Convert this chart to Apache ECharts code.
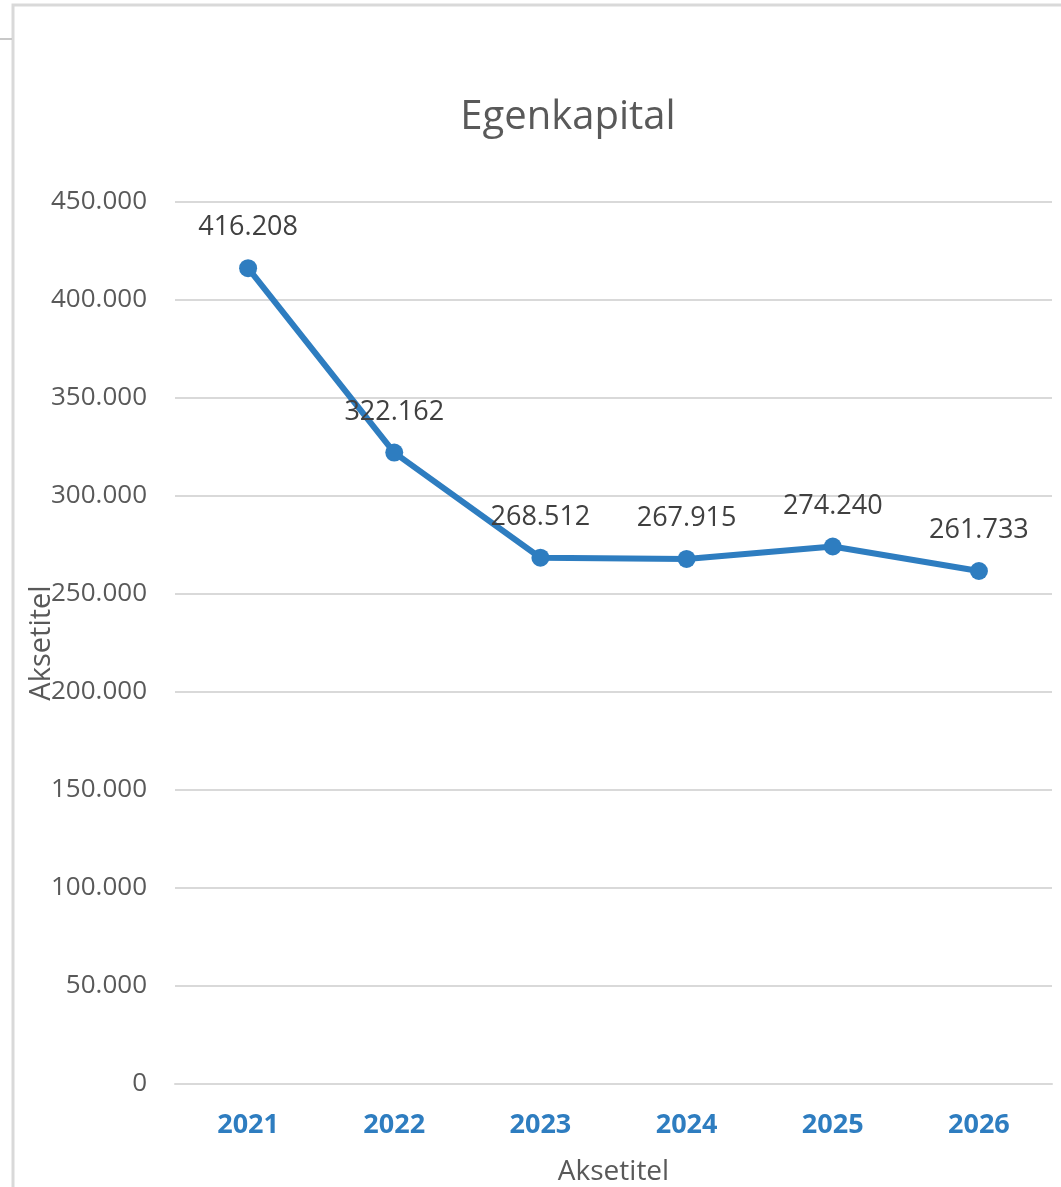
<!DOCTYPE html>
<html>
<head>
<meta charset="utf-8">
<script src="https://cdn.jsdelivr.net/npm/echarts@6/dist/echarts.min.js"></script>
<style>
  html, body { margin: 0; padding: 0; background: #fff; }
  #container { width: 1061px; height: 1187px; }
</style>
</head>
<body>
<div id="container"></div>
<script>
var dom = document.getElementById('container');
var myChart = echarts.init(dom, null, { renderer: 'canvas' });

// data
const years = ['2021', '2022', '2023', '2024', '2025', '2026'];
const egenkapital = [416208, 322162, 268512, 267915, 274240, 261733];

const fontName = '"Open Sans", "Liberation Sans", sans-serif';

function fmt(v) {
    // 416208 -> 416.208
    return v === 0 ? '0' : Math.floor(v / 1000) + '.' + String(v % 1000).padStart(3, '0');
}

var option = {
    backgroundColor: '#fff',
    textStyle: { fontFamily: fontName },
    title: {
        text: 'Egenkapital',
        left: 563,
        top: 93,
        textAlign: 'center',
        textStyle: { fontSize: 40, fontWeight: 'normal', color: '#595959', fontFamily: fontName }
    },
    graphic: [
        // chart frame
        { type: 'rect', shape: { x: 13, y: 5, width: 1100, height: 1300 },
          style: { fill: null, stroke: '#d9d9d9', lineWidth: 3 }, silent: true },
        { type: 'line', shape: { x1: 0, y1: 39, x2: 12, y2: 39 },
          style: { stroke: '#c8c8c8', lineWidth: 2 }, silent: true }
    ],
    grid: { left: 175, right: 9, top: 202, bottom: 103, outerBoundsMode: 'none', containLabel: false },
    xAxis: {
        type: 'category',
        data: years,
        name: 'Aksetitel',
        nameLocation: 'middle',
        nameGap: 74,
        nameMoveOverlap: false,
        nameTextStyle: { fontSize: 28, color: '#595959' },
        axisLine: { show: true, lineStyle: { color: '#d9d9d9', width: 2 } },
        axisTick: { show: false },
        axisLabel: { fontSize: 27, fontWeight: 'bold', color: '#2e7dc0', margin: 28 }
    },
    yAxis: {
        type: 'value',
        min: 0,
        max: 450000,
        interval: 50000,
        name: 'Aksetitel',
        nameLocation: 'middle',
        nameGap: 119,
        nameMoveOverlap: false,
        nameRotate: 90,
        nameTextStyle: { fontSize: 29, color: '#595959' },
        axisLine: { show: false },
        axisTick: { show: false },
        splitLine: { lineStyle: { color: '#d9d9d9', width: 2 } },
        axisLabel: { fontSize: 26, color: '#595959', margin: 28, formatter: fmt }
    },
    series: [
        {
            type: 'line',
            data: egenkapital,
            symbol: 'circle',
            symbolSize: 18,
            lineStyle: { color: '#2e7dc0', width: 6 },
            itemStyle: { color: '#2e7dc0' },
            label: {
                show: true,
                position: 'top',
                distance: 18,
                fontSize: 27,
                color: '#404040',
                formatter: function (p) { return fmt(p.value); }
            }
        }
    ]
};

myChart.setOption(option);
window.addEventListener('resize', myChart.resize);
</script>
</body>
</html>
